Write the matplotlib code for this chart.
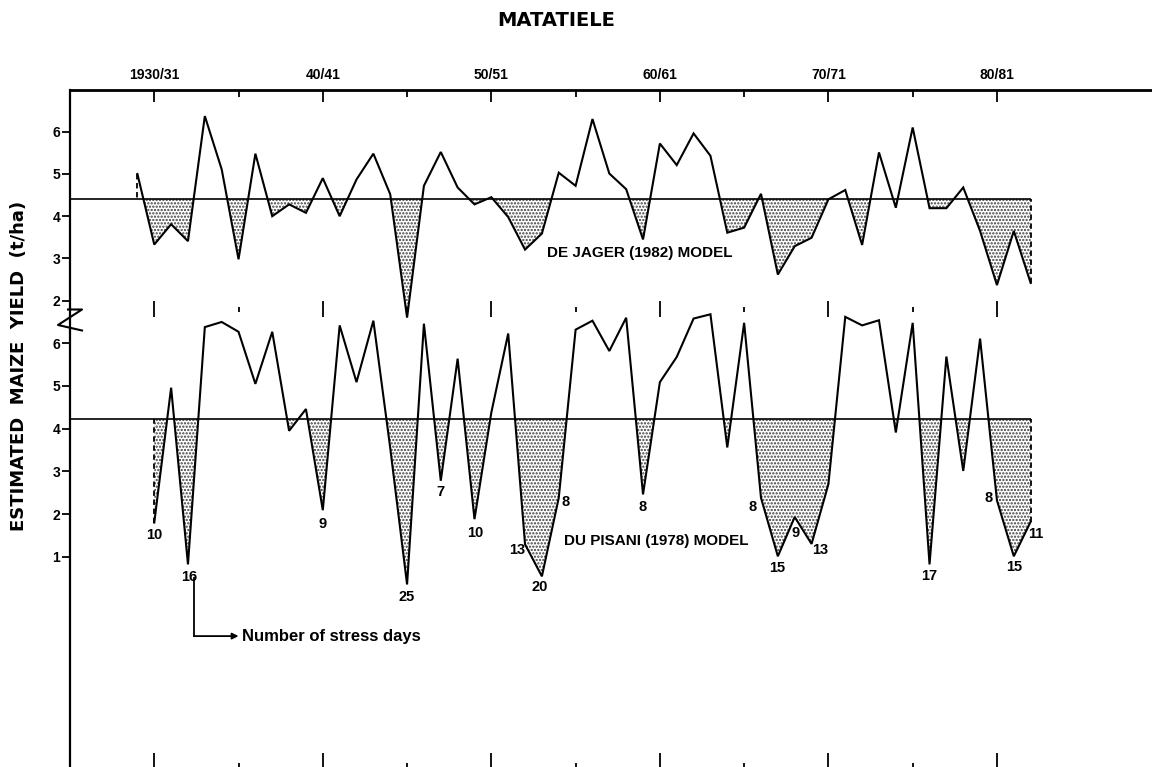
import numpy as np
import matplotlib.pyplot as plt
from matplotlib.lines import Line2D

# Seasons are given by their first year (1930 -> 1930/31)
DE_JAGER_YEARS = list(range(1929, 1983))
DE_JAGER_YIELD = [5.00, 3.33, 3.81, 3.41, 6.37, 5.11, 2.98, 5.48, 4.00, 4.28,
                  4.08, 4.90, 4.00, 4.87, 5.48, 4.52, 1.60, 4.72, 5.52, 4.68,
                  4.28, 4.45, 3.98, 3.21, 3.59, 5.03, 4.72, 6.30, 5.01, 4.64,
                  3.45, 5.72, 5.21, 5.96, 5.43, 3.61, 3.73, 4.53, 2.62, 3.29,
                  3.49, 4.40, 4.62, 3.32, 5.51, 4.20, 6.10, 4.19, 4.19, 4.68,
                  3.65, 2.37, 3.65, 2.42]
DE_JAGER_MEAN = 4.41

DU_PISANI_YEARS = list(range(1930, 1983))
DU_PISANI_YIELD = [1.80, 4.96, 0.82, 6.38, 6.50, 6.27, 5.05, 6.27, 3.95, 4.46,
                   2.09, 6.42, 5.09, 6.53, 3.55, 0.35, 6.46, 2.78, 5.64, 1.88,
                   4.38, 6.23, 1.29, 0.54, 2.38, 6.32, 6.53, 5.82, 6.60, 2.46,
                   5.09, 5.68, 6.58, 6.68, 3.56, 6.48, 2.38, 1.01, 1.93, 1.30,
                   2.70, 6.62, 6.42, 6.54, 3.91, 6.48, 0.82, 5.69, 3.01, 6.11,
                   2.32, 1.01, 1.82]
DU_PISANI_MEAN = 4.22

# Number of stress days written under the dry seasons (Du Pisani model)
STRESS_YEARS = [1930, 1932, 1940, 1945, 1947, 1949, 1952, 1953, 1954,
                1959, 1966, 1967, 1968, 1969, 1976, 1980, 1981, 1982]
STRESS_DAYS = [10, 16, 9, 25, 7, 10, 13, 20, 8, 8, 8, 15, 9, 13, 17, 8, 15, 11]

DECADES = [1930, 1940, 1950, 1960, 1970, 1980]
DECADE_LABELS = ['1930/31', '40/41', '50/51', '60/61', '70/71', '80/81']
HALF_DECADES = [1935, 1945, 1955, 1965, 1975]

# Layout (label offsets in pixels, relative to the data point)
STRESS_OFFSETS = [(0, -12), (1, -13), (0, -14), (0, -13), (0, -11), (1, -14),
                  (-8, -6), (-2, -11), (7, -4), (0, -13), (-8, -9), (-1, -12),
                  (1, -16), (9, -6), (0, -12), (-8, 2), (0, -11), (5, -12)]
XLIM = (1925.0, 1989.2)
W, H = 1152, 767
LEFT_PX, TOP_PX, BREAK_PX = 70, 90, 309

plt.rcParams['font.family'] = ['Liberation Sans', 'DejaVu Sans']
plt.rcParams['font.weight'] = 'bold'
plt.rcParams['hatch.linewidth'] = 1.1

fig = plt.figure(figsize=(W / 100, H / 100), dpi=100)
left = LEFT_PX / W
ax_top = fig.add_axes([left, 1 - BREAK_PX / H, 1 - left, (BREAK_PX - TOP_PX) / H])
ax_bot = fig.add_axes([left, 0, 1 - left, 1 - BREAK_PX / H])


def draw_model(ax, years, values, mean):
    years = np.array(years)
    values = np.array(values)
    ax.fill_between(years, values, mean, where=values < mean, interpolate=True,
                    facecolor='white', edgecolor='#3c3c3c', hatch='.....',
                    linewidth=0, clip_on=False, zorder=1)
    ax.hlines(mean, XLIM[0], years[-1], color='black', lw=1.2, zorder=2)
    ax.plot(years, values, color='black', lw=1.5, solid_joinstyle='miter',
            clip_on=False, zorder=3)
    # dashed closing lines at the ends of the record
    for i in (0, -1):
        ax.vlines(years[i], values[i], mean, color='black', lw=1.3,
                  linestyles=(0, (3, 2)), zorder=3)


draw_model(ax_top, DE_JAGER_YEARS, DE_JAGER_YIELD, DE_JAGER_MEAN)
draw_model(ax_bot, DU_PISANI_YEARS, DU_PISANI_YIELD, DU_PISANI_MEAN)

ax_top.set_xlim(*XLIM)
ax_bot.set_xlim(*XLIM)
ax_top.set_ylim(1.804, 6.987)
ax_bot.set_ylim(-3.927, 6.804)

for ax in (ax_top, ax_bot):
    ax.patch.set_visible(False)
    ax.spines['right'].set_visible(False)
    ax.spines['bottom'].set_visible(False)
    ax.spines['left'].set_linewidth(1.6)
    ax.set_xticks(DECADES)
    ax.set_xticks(HALF_DECADES, minor=True)
    ax.tick_params(axis='y', direction='out', length=5.5, width=1.3, pad=1.5,
                   labelsize=10)
ax_bot.spines['top'].set_visible(False)
ax_top.spines['top'].set_linewidth(2.0)

ax_top.set_yticks([2, 3, 4, 5, 6])
ax_bot.set_yticks([1, 2, 3, 4, 5, 6])

# top axis: ticks pointing in, season labels
ax_top.set_xticklabels(DECADE_LABELS)
ax_top.tick_params(axis='x', which='both', top=True, bottom=False, labeltop=True,
                   labelbottom=False, direction='in', width=1.3, pad=5.5,
                   labelsize=10)
ax_top.tick_params(axis='x', which='major', length=8.5)
ax_top.tick_params(axis='x', which='minor', length=5)

# ticks across the break between the two panels
ax_bot.tick_params(axis='x', which='both', top=True, bottom=False, labeltop=False,
                   labelbottom=False, direction='inout', width=1.3)
ax_bot.tick_params(axis='x', which='major', length=11.5)
ax_bot.tick_params(axis='x', which='minor', length=3.6)

# ticks at the bottom edge
sec = ax_bot.secondary_xaxis('bottom')
sec.set_xticks(DECADES)
sec.set_xticks(HALF_DECADES, minor=True)
sec.spines['bottom'].set_visible(False)
sec.tick_params(axis='x', which='both', direction='in', width=1.3,
                labelbottom=False)
sec.tick_params(axis='x', which='major', length=10)
sec.tick_params(axis='x', which='minor', length=3)

# model names
ax_top.text(1958.8, 3.13, 'DE JAGER (1982) MODEL', ha='center', va='center',
            fontsize=11)
ax_bot.text(1959.8, 1.36, 'DU PISANI (1978) MODEL', ha='center', va='center',
            fontsize=11)

# stress day counts
stress_values = dict(zip(DU_PISANI_YEARS, DU_PISANI_YIELD))
for year, days, (dx, dy) in zip(STRESS_YEARS, STRESS_DAYS, STRESS_OFFSETS):
    ax_bot.annotate(str(days), (year, stress_values[year]), xytext=(dx, dy),
                    textcoords='offset pixels', ha='center', va='center',
                    fontsize=10.5)

# pointer to the explanation of the numbers
x_arrow = STRESS_YEARS[1] + 0.35
ax_bot.plot([x_arrow, x_arrow], [0.5, -0.86], color='black', lw=1.3)
ax_bot.annotate('', xy=(1935.0, -0.86), xytext=(x_arrow, -0.86),
                arrowprops=dict(arrowstyle='-|>', color='black', lw=1.3,
                                mutation_scale=9, shrinkA=0, shrinkB=0))
ax_bot.text(1935.2, -0.86, 'Number of stress days', ha='left', va='center',
            fontsize=12)

# axis break mark on the left spine
zx = np.array([68, 82, 58, 82]) / W
zy = 1 - np.array([309.5, 309.5, 325, 330.5]) / H
fig.add_artist(Line2D(zx, zy, color='black', lw=1.5, transform=fig.transFigure))

fig.text(19 / W, 1 - 366 / H, 'ESTIMATED  MAIZE  YIELD  (t/ha)', rotation=90,
         ha='center', va='center', fontsize=13, family='DejaVu Sans')
fig.text(556 / W, 1 - 20 / H, 'MATATIELE', ha='center', va='center',
         fontsize=14, family='DejaVu Sans')

fig.savefig('out.png', dpi=100)
